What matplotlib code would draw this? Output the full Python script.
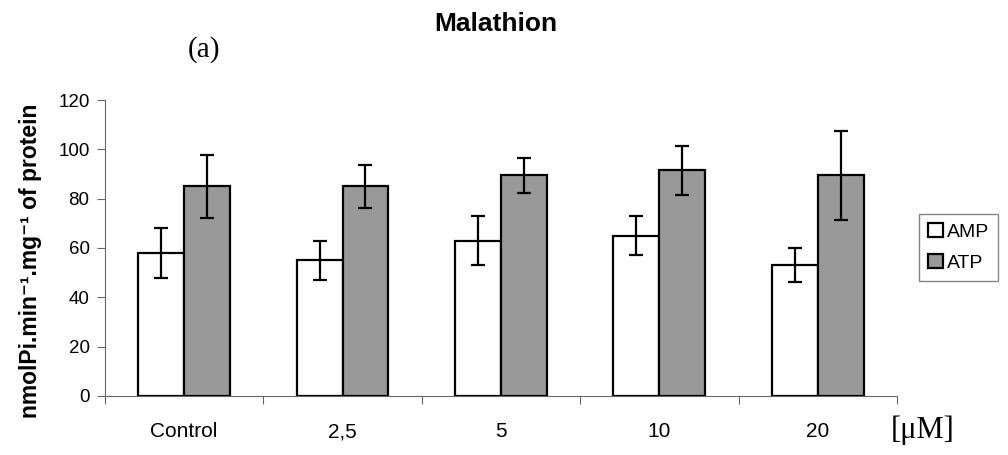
import matplotlib.pyplot as plt
import numpy as np

plt.rcParams['font.family'] = ['Liberation Sans', 'DejaVu Sans']

categories = ['Control', '2,5', '5', '10', '20']
amp = [58, 55, 63, 65, 53]
amp_err = [10, 8, 10, 8, 7]
atp = [85, 85, 89.5, 91.5, 89.5]
atp_err = [12.7, 8.8, 7, 10, 18]

fig = plt.figure(figsize=(10.08, 4.55), dpi=100)
ax = fig.add_axes([0.104, 0.13, 0.786, 0.65])

x = np.arange(len(categories))
w = 0.29
err_kw = dict(ecolor='black', elinewidth=1.6, capsize=5, capthick=1.6)
ax.bar(x - w / 2, amp, w, yerr=amp_err, color='white', edgecolor='black',
       linewidth=1.6, label='AMP', error_kw=err_kw)
ax.bar(x + w / 2, atp, w, yerr=atp_err, color='#999999', edgecolor='black',
       linewidth=1.6, label='ATP', error_kw=err_kw)

ax.set_xlim(-0.5, len(categories) - 0.5)
ax.set_ylim(0, 120)
ax.set_yticks(np.arange(0, 121, 20))
ax.set_xticks(np.arange(-0.5, len(categories), 1.0))
ax.set_xticklabels([])
ax.set_xticks(x, minor=True)
ax.set_xticklabels(categories, minor=True)
ax.tick_params(axis='x', which='minor', length=0, pad=19, labelsize=15)
ax.tick_params(axis='x', which='major', length=6, color='#666666')
ax.tick_params(axis='y', length=6, pad=5, color='#666666', labelsize=13.5)
for s in ['top', 'right']:
    ax.spines[s].set_visible(False)
for s in ['left', 'bottom']:
    ax.spines[s].set_color('#666666')

ylab = 'nmolPi.min\u207b\u00b9.mg\u207b\u00b9 of protein'
fig.text(0.03, 0.426, ylab, rotation=90, ha='center', va='center', fontsize=16.5,
         fontweight='bold')

fig.text(0.492, 0.947, 'Malathion', ha='center', va='center', fontsize=19, fontweight='bold')
fig.text(0.202, 0.892, '(a)', ha='center', va='center', fontsize=21, family='Liberation Serif')
fig.text(0.915, 0.055, '[\u03bcM]', ha='center', va='center', fontsize=22, family='Liberation Serif')

leg = ax.legend(loc='upper left', bbox_to_anchor=(1.028, 0.615), fontsize=14, frameon=True,
                fancybox=False, edgecolor='#666666', handlelength=0.75, handleheight=0.75,
                handletextpad=0.2, borderpad=0.45, labelspacing=0.7, borderaxespad=0)
leg.get_frame().set_linewidth(1.0)

fig.savefig('out.png', dpi=100)
